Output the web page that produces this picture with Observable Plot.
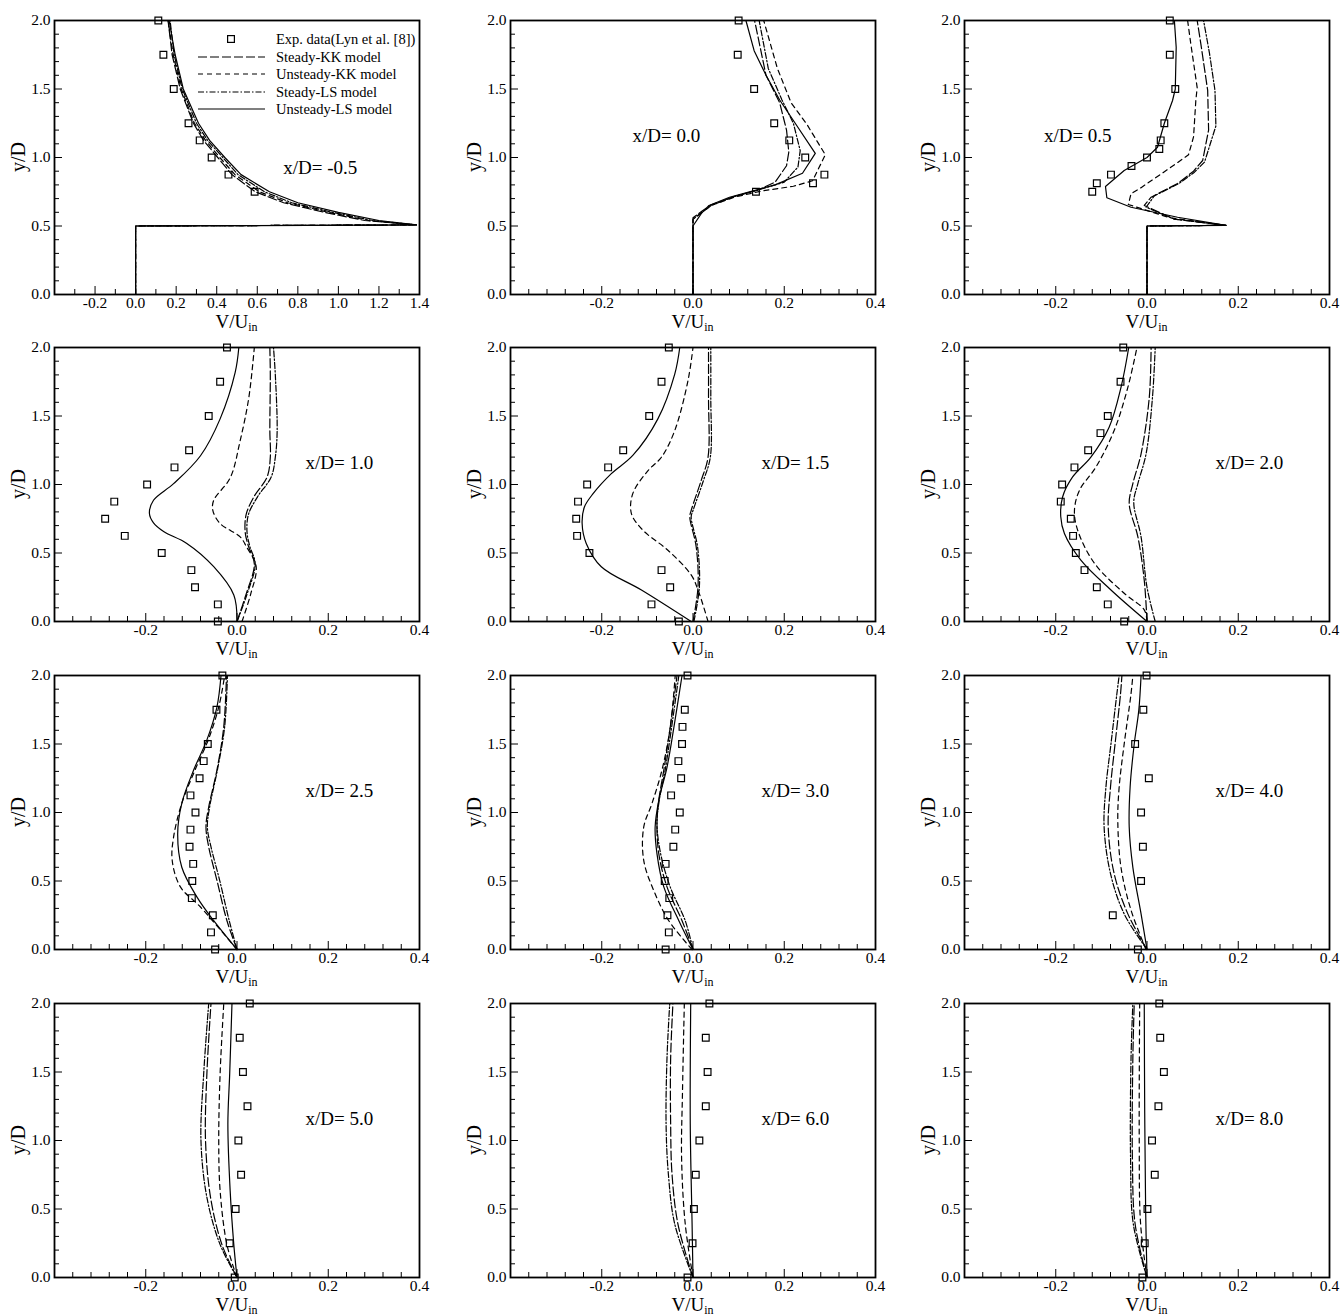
<!DOCTYPE html>
<html><head><meta charset="utf-8">
<script src="https://cdn.jsdelivr.net/npm/d3@7"></script>
<script src="https://cdn.jsdelivr.net/npm/@observablehq/plot@0.6"></script>
<style>
body{margin:0;background:#fff;}
#wrap{position:relative;width:1341px;height:1316px;overflow:hidden;background:#fff;font-family:"Liberation Serif","Times New Roman",serif;}
#wrap svg{position:absolute;}
</style></head><body><div id="wrap"></div>
<script>
// ---------- data: [V/Uin, y/D] ----------
const exp1 = [[0.112,2.0],[0.137,1.75],[0.188,1.5],[0.261,1.25],[0.316,1.125],[0.375,1.0],[0.458,0.875],[0.587,0.75]];
const skk1 = [[0,0],[0,0.5],[1.385,0.508],[1.13,0.54],[0.93,0.6],[0.73,0.67],[0.59,0.75],[0.475,0.875],[0.405,1.0],[0.335,1.125],[0.285,1.25],[0.22,1.5],[0.18,1.75],[0.16,2.0]];
const ukk1 = [[0,0],[0,0.5],[1.385,0.508],[1.15,0.54],[0.95,0.6],[0.75,0.67],[0.61,0.75],[0.49,0.875],[0.415,1.0],[0.345,1.125],[0.29,1.25],[0.225,1.5],[0.185,1.75],[0.16,2.0]];
const sls1 = [[0,0],[0,0.5],[1.385,0.508],[1.17,0.54],[0.97,0.6],[0.77,0.67],[0.635,0.75],[0.505,0.875],[0.43,1.0],[0.355,1.125],[0.30,1.25],[0.23,1.5],[0.19,1.75],[0.17,2.0]];
const uls1 = [[0,0],[0,0.5],[1.385,0.508],[1.2,0.54],[1.0,0.6],[0.8,0.67],[0.66,0.75],[0.52,0.875],[0.44,1.0],[0.365,1.125],[0.31,1.25],[0.235,1.5],[0.195,1.75],[0.165,2.0]];

const exp2 = [[0.100,2.0],[0.098,1.75],[0.134,1.5],[0.178,1.25],[0.211,1.125],[0.246,1.0],[0.288,0.875],[0.263,0.8125],[0.138,0.75]];
const skk2 = [[0,0],[0,0.5],[0,0.56],[0.02,0.61],[0.04,0.655],[0.09,0.715],[0.14,0.76],[0.18,0.82],[0.205,0.94],[0.21,1.04],[0.205,1.2],[0.19,1.4],[0.16,1.6],[0.135,2.0]];
const ukk2 = [[0,0],[0,0.5],[0,0.55],[0.02,0.6],[0.04,0.65],[0.09,0.71],[0.15,0.755],[0.22,0.79],[0.262,0.83],[0.29,1.02],[0.25,1.24],[0.215,1.4],[0.185,1.65],[0.155,2.0]];
const sls2 = [[0,0],[0,0.5],[0,0.55],[0.02,0.6],[0.04,0.65],[0.09,0.715],[0.14,0.76],[0.2,0.82],[0.23,0.93],[0.235,1.05],[0.22,1.25],[0.195,1.42],[0.165,1.65],[0.145,2.0]];
const uls2 = [[0,0],[0,0.5],[0.004,0.52],[0.018,0.59],[0.035,0.65],[0.08,0.71],[0.13,0.755],[0.18,0.8],[0.24,0.885],[0.268,1.03],[0.224,1.25],[0.19,1.42],[0.16,1.6],[0.134,1.78],[0.116,2.0]];

const exp3 = [[0.050,2.0],[0.050,1.75],[0.062,1.5],[0.038,1.25],[0.030,1.125],[0.027,1.0625],[0.0,1.0],[-0.034,0.9375],[-0.079,0.875],[-0.110,0.8125],[-0.120,0.75]];
const skk3 = [[0,0],[0,0.5],[0.173,0.505],[0.06,0.55],[-0.006,0.65],[0.009,0.71],[0.067,0.81],[0.102,0.9],[0.122,0.978],[0.135,1.2],[0.133,1.49],[0.118,1.83],[0.11,2.0]];
const ukk3 = [[0,0],[0,0.5],[0.173,0.505],[0.05,0.56],[-0.041,0.657],[-0.035,0.735],[-0.013,0.78],[0.053,0.93],[0.091,1.02],[0.102,1.15],[0.107,1.416],[0.11,1.51],[0.096,1.83],[0.089,2.0]];
const sls3 = [[0,0],[0,0.5],[0.173,0.505],[0.06,0.55],[-0.002,0.637],[0.016,0.72],[0.07,0.81],[0.104,0.893],[0.126,0.966],[0.151,1.23],[0.149,1.49],[0.137,1.76],[0.124,2.0]];
const uls3 = [[0,0],[0,0.5],[0.173,0.505],[0.067,0.564],[-0.035,0.637],[-0.088,0.706],[-0.091,0.788],[-0.05,0.905],[0,1.0],[0.023,1.075],[0.038,1.25],[0.056,1.416],[0.062,1.5],[0.064,1.805],[0.060,2.0]];

const exp4 = [[-0.022,2.0],[-0.037,1.75],[-0.062,1.5],[-0.105,1.25],[-0.137,1.125],[-0.197,1.0],[-0.269,0.875],[-0.289,0.75],[-0.246,0.625],[-0.165,0.5],[-0.100,0.375],[-0.092,0.25],[-0.042,0.125],[-0.042,0.0]];
const skk4 = [[0,0],[0.02,0.2],[0.038,0.42],[0.025,0.55],[0.018,0.65],[0.02,0.78],[0.037,0.91],[0.066,1.055],[0.073,1.2],[0.072,1.394],[0.073,1.806],[0.072,2.0]];
const ukk4 = [[0.011,0],[0.03,0.2],[0.042,0.4],[0.02,0.55],[0.007,0.618],[-0.037,0.715],[-0.053,0.812],[-0.051,0.885],[-0.015,1.048],[0.007,1.321],[0.026,1.636],[0.038,2.0]];
const sls4 = [[0,0],[0.022,0.2],[0.04,0.42],[0.028,0.55],[0.022,0.65],[0.025,0.78],[0.045,0.91],[0.075,1.055],[0.084,1.2],[0.088,1.39],[0.084,1.8],[0.080,2.0]];
const uls4 = [[0,0],[-0.007,0.194],[-0.051,0.4],[-0.11,0.57],[-0.16,0.655],[-0.183,0.72],[-0.192,0.79],[-0.183,0.885],[-0.139,1.006],[-0.08,1.21],[-0.037,1.479],[-0.004,1.818],[0.004,2.0]];

const exp5 = [[-0.053,2.0],[-0.069,1.75],[-0.096,1.5],[-0.153,1.25],[-0.186,1.125],[-0.232,1.0],[-0.252,0.875],[-0.256,0.75],[-0.254,0.625],[-0.227,0.5],[-0.069,0.375],[-0.05,0.25],[-0.091,0.125],[-0.031,0.0]];
const skk5 = [[0,0],[0.011,0.255],[0.007,0.545],[-0.007,0.764],[-0.004,0.81],[0.018,1.03],[0.033,1.2],[0.034,1.636],[0.034,2.0]];
const ukk5 = [[0.033,0],[0.011,0.23],[-0.004,0.34],[-0.055,0.52],[-0.11,0.667],[-0.135,0.788],[-0.132,0.933],[-0.099,1.1],[-0.069,1.2],[-0.04,1.394],[-0.011,1.758],[0.0,2.0]];
const sls5 = [[0.002,0],[0.014,0.255],[0.01,0.545],[-0.004,0.764],[0.0,0.81],[0.023,1.03],[0.038,1.2],[0.039,1.636],[0.039,2.0]];
const uls5 = [[-0.004,0],[-0.113,0.23],[-0.201,0.4],[-0.234,0.57],[-0.243,0.715],[-0.238,0.836],[-0.219,0.933],[-0.179,1.079],[-0.132,1.212],[-0.077,1.479],[-0.040,1.806],[-0.029,2.0]];

const exp6 = [[-0.052,2.0],[-0.058,1.75],[-0.086,1.5],[-0.102,1.375],[-0.129,1.25],[-0.159,1.125],[-0.186,1.0],[-0.189,0.875],[-0.167,0.75],[-0.162,0.625],[-0.156,0.5],[-0.137,0.375],[-0.110,0.25],[-0.086,0.125],[-0.05,0.0]];
const skk6 = [[0,0],[-0.006,0.30],[-0.02,0.618],[-0.039,0.86],[-0.031,1.006],[-0.013,1.224],[0.005,1.636],[0.009,2.0]];
const ukk6 = [[0,0],[-0.006,0.085],[-0.05,0.206],[-0.115,0.424],[-0.152,0.667],[-0.159,0.812],[-0.148,0.958],[-0.112,1.127],[-0.072,1.394],[-0.042,1.709],[-0.022,2.0]];
const sls6 = [[0.018,0],[0,0.25],[-0.013,0.618],[-0.029,0.87],[-0.02,1.006],[-0.002,1.224],[0.012,1.636],[0.018,2.0]];
const uls6 = [[0,0],[-0.079,0.23],[-0.145,0.448],[-0.181,0.642],[-0.189,0.764],[-0.185,0.909],[-0.163,1.055],[-0.123,1.2],[-0.083,1.418],[-0.057,1.709],[-0.040,2.0]];

const exp7 = [[-0.032,2.0],[-0.045,1.75],[-0.064,1.5],[-0.073,1.375],[-0.082,1.25],[-0.102,1.125],[-0.091,1.0],[-0.102,0.875],[-0.104,0.75],[-0.096,0.625],[-0.098,0.5],[-0.099,0.375],[-0.053,0.25],[-0.057,0.125],[-0.048,0.0]];
const skk7 = [[0,0],[-0.022,0.21],[-0.044,0.505],[-0.062,0.749],[-0.068,0.894],[-0.062,1.04],[-0.044,1.31],[-0.029,1.627],[-0.023,2.0]];
const ukk7 = [[0,0],[-0.08,0.31],[-0.124,0.457],[-0.142,0.65],[-0.139,0.82],[-0.121,1.067],[-0.092,1.31],[-0.063,1.53],[-0.04,1.77],[-0.027,2.0]];
const sls7 = [[0,0],[-0.017,0.21],[-0.038,0.505],[-0.057,0.749],[-0.065,0.894],[-0.06,1.04],[-0.043,1.31],[-0.027,1.627],[-0.021,2.0]];
const uls7 = [[0,0],[-0.051,0.21],[-0.088,0.384],[-0.121,0.6],[-0.130,0.845],[-0.121,1.067],[-0.095,1.31],[-0.066,1.53],[-0.044,1.77],[-0.035,2.0]];

const exp8 = [[-0.012,2.0],[-0.018,1.75],[-0.023,1.625],[-0.024,1.5],[-0.032,1.375],[-0.026,1.25],[-0.048,1.125],[-0.029,1.0],[-0.039,0.875],[-0.043,0.75],[-0.060,0.625],[-0.062,0.5],[-0.052,0.375],[-0.056,0.25],[-0.053,0.125],[-0.060,0.0]];
const skk8 = [[0,0],[-0.024,0.21],[-0.057,0.457],[-0.075,0.7],[-0.079,0.92],[-0.075,1.089],[-0.064,1.31],[-0.05,1.62],[-0.035,2.0]];
const ukk8 = [[-0.002,0],[-0.053,0.21],[-0.086,0.43],[-0.108,0.65],[-0.108,0.894],[-0.09,1.065],[-0.068,1.31],[-0.05,1.62],[-0.039,2.0]];
const sls8 = [[0,0],[-0.017,0.21],[-0.05,0.457],[-0.071,0.7],[-0.079,0.92],[-0.074,1.089],[-0.061,1.31],[-0.047,1.62],[-0.031,2.0]];
const uls8 = [[0,0],[-0.031,0.21],[-0.064,0.457],[-0.079,0.7],[-0.083,0.894],[-0.075,1.089],[-0.057,1.33],[-0.042,1.62],[-0.024,2.0]];

const exp9 = [[-0.001,2.0],[-0.008,1.75],[-0.026,1.5],[0.004,1.25],[-0.013,1.0],[-0.009,0.75],[-0.013,0.5],[-0.075,0.25],[-0.020,0.0]];
const skk9 = [[0,0],[-0.042,0.26],[-0.072,0.554],[-0.085,0.894],[-0.08,1.186],[-0.07,1.5],[-0.058,1.867],[-0.055,2.0]];
const ukk9 = [[-0.002,0],[-0.035,0.287],[-0.057,0.6],[-0.064,0.94],[-0.061,1.186],[-0.05,1.5],[-0.035,1.867],[-0.031,2.0]];
const sls9 = [[0,0],[-0.05,0.26],[-0.08,0.554],[-0.094,0.894],[-0.09,1.186],[-0.079,1.5],[-0.066,1.867],[-0.061,2.0]];
const uls9 = [[0,0],[-0.013,0.26],[-0.031,0.6],[-0.039,0.894],[-0.037,1.186],[-0.028,1.5],[-0.018,1.745],[-0.013,2.0]];

const exp10 = [[0.028,2.0],[0.006,1.75],[0.013,1.5],[0.023,1.25],[0.003,1.0],[0.009,0.75],[-0.003,0.5],[-0.016,0.25],[-0.005,0.0]];
const skk10 = [[0,0],[-0.033,0.24],[-0.058,0.585],[-0.069,1.0],[-0.066,1.488],[-0.057,2.0]];
const ukk10 = [[0,0],[-0.022,0.24],[-0.037,0.634],[-0.04,1.0],[-0.037,1.488],[-0.029,2.0]];
const sls10 = [[0,0],[-0.037,0.24],[-0.066,0.585],[-0.079,1.0],[-0.073,1.488],[-0.062,2.0]];
const uls10 = [[0,0],[-0.007,0.24],[-0.015,0.634],[-0.02,1.12],[-0.016,1.488],[-0.011,2.0]];

const exp11 = [[0.036,2.0],[0.028,1.75],[0.032,1.5],[0.028,1.25],[0.014,1.0],[0.006,0.75],[0.002,0.5],[-0.001,0.25],[-0.012,0.0]];
const skk11 = [[0,0],[-0.033,0.39],[-0.046,0.756],[-0.049,1.12],[-0.049,1.6],[-0.044,2.0]];
const ukk11 = [[0,0],[-0.017,0.39],[-0.025,0.87],[-0.023,1.36],[-0.019,2.0]];
const sls11 = [[0,0],[-0.04,0.39],[-0.054,0.756],[-0.059,1.12],[-0.057,1.6],[-0.051,2.0]];
const uls11 = [[0,0],[-0.002,0.39],[-0.006,1.12],[-0.005,2.0]];

const exp12 = [[0.027,2.0],[0.029,1.75],[0.037,1.5],[0.025,1.25],[0.011,1.0],[0.017,0.75],[0.001,0.5],[-0.005,0.25],[-0.010,0.0]];
const skk12 = [[0,0],[-0.026,0.39],[-0.032,0.87],[-0.031,1.6],[-0.028,2.0]];
const ukk12 = [[0,0],[-0.014,0.39],[-0.017,1.0],[-0.016,2.0]];
const sls12 = [[0,0],[-0.03,0.39],[-0.036,0.87],[-0.035,1.6],[-0.031,2.0]];
const uls12 = [[0,0],[-0.003,0.5],[-0.005,1.2],[-0.006,2.0]];

const stationLabels = ["x/D= -0.5","x/D= 0.0","x/D= 0.5","x/D= 1.0","x/D= 1.5","x/D= 2.0","x/D= 2.5","x/D= 3.0","x/D= 4.0","x/D= 5.0","x/D= 6.0","x/D= 8.0"];
const legendLabels = ["Exp. data(Lyn et al. [8])","Steady-KK model","Unsteady-KK model","Steady-LS model","Unsteady-LS model"];

// tick values
const xMajorWide = [-0.2,0,0.2,0.4,0.6,0.8,1.0,1.2,1.4];
const xMinorWide = [-0.3,-0.1,0.1,0.3,0.5,0.7,0.9,1.1,1.3];
const xMajor = [-0.2,0,0.2,0.4];
const xMinor = [-0.36,-0.32,-0.28,-0.24,-0.16,-0.12,-0.08,-0.04,0.04,0.08,0.12,0.16,0.24,0.28,0.32,0.36];
const yMajor = [0,0.5,1.0,1.5,2.0];
const yMinor = [0.1,0.2,0.3,0.4,0.6,0.7,0.8,0.9,1.1,1.2,1.3,1.4,1.6,1.7,1.8,1.9];

// ---------- layout ----------
const expSets = [exp1,exp2,exp3,exp4,exp5,exp6,exp7,exp8,exp9,exp10,exp11,exp12];
const skkSets = [skk1,skk2,skk3,skk4,skk5,skk6,skk7,skk8,skk9,skk10,skk11,skk12];
const ukkSets = [ukk1,ukk2,ukk3,ukk4,ukk5,ukk6,ukk7,ukk8,ukk9,ukk10,ukk11,ukk12];
const slsSets = [sls1,sls2,sls3,sls4,sls5,sls6,sls7,sls8,sls9,sls10,sls11,sls12];
const ulsSets = [uls1,uls2,uls3,uls4,uls5,uls6,uls7,uls8,uls9,uls10,uls11,uls12];
const labelPos = [[0.728,0.922],[-0.1325,1.155],[-0.226,1.155]]; // others [0.15,1.16]

const COL_LEFT = [54, 510, 964], ROW_TOP = [20, 347, 675, 1003];
const FW = 365, FH = 274, ML = 54, MT = 20, MR = 10, MB = 44;
const FONT = '"Liberation Serif","Times New Roman",serif';
const fmt = d => (Math.abs(d) < 1e-9 ? 0 : d).toFixed(1);
const blank = () => "";
const styles = {
  skk: {strokeDasharray: "9,3"},
  ukk: {strokeDasharray: "5,4"},
  sls: {strokeDasharray: "6,2,1.5,2"},
  uls: {}
};

const wrap = document.getElementById("wrap");

for (let i = 0; i < 12; i++) {
  const col = i % 3, row = Math.floor(i / 3);
  const wide = i === 0;
  const xDomain = wide ? [-0.4, 1.4] : [-0.4, 0.4];
  const curve = i < 3 ? "linear" : "catmull-rom";
  const lp = labelPos[i] || [0.15, 1.16];
  const line = (arr, st) => Plot.line(arr, {x: d => d[0], y: d => d[1], stroke: "black", strokeWidth: 1.2, curve, ...st});
  const svg = Plot.plot({
    width: ML + FW + MR, height: MT + FH + MB,
    marginLeft: ML, marginRight: MR, marginTop: MT, marginBottom: MB,
    style: {background: "transparent", fontFamily: FONT, fontSize: "15.5px", color: "black", overflow: "visible"},
    x: {domain: xDomain}, y: {domain: [0, 2]},
    marks: [
      Plot.axisX(wide ? xMajorWide : xMajor, {tickSize: 8, dy: -8, tickFormat: blank, label: null}),
      Plot.axisX(wide ? xMinorWide : xMinor, {tickSize: 5, dy: -5, tickFormat: blank, label: null}),
      Plot.axisX(wide ? xMajorWide : xMajor, {tickSize: 0, tickPadding: 2, tickFormat: fmt, label: null, fontSize: 15.5}),
      Plot.axisY(yMajor, {tickSize: 8, dx: 8, tickFormat: blank, label: null}),
      Plot.axisY(yMinor, {tickSize: 5, dx: 5, tickFormat: blank, label: null}),
      Plot.axisY(yMajor, {tickSize: 0, tickPadding: 4, tickFormat: fmt, label: null, fontSize: 15.5}),
      Plot.frame({stroke: "black", strokeWidth: 1.8}),
      line(skkSets[i], styles.skk),
      line(ukkSets[i], styles.ukk),
      line(slsSets[i], styles.sls),
      line(ulsSets[i], styles.uls),
      Plot.dot(expSets[i], {x: d => d[0], y: d => d[1], symbol: "square", r: 3.8, stroke: "black", fill: "none", strokeWidth: 1.2}),
      Plot.text([stationLabels[i]], {x: lp[0], y: lp[1], text: d => d, textAnchor: "start", fontSize: 19, fill: "black"})
    ]
  });
  svg.style.left = (COL_LEFT[col] - ML) + "px";
  svg.style.top = (ROW_TOP[row] - MT) + "px";
  const s = d3.select(svg);
  // x label V/U_in
  const xl = s.append("text").attr("x", ML + FW / 2).attr("y", MT + FH + (row === 3 ? 33.5 : 34))
    .attr("text-anchor", "middle").attr("font-family", FONT).attr("font-size", 19).attr("fill", "black");
  xl.append("tspan").text("V/U");
  xl.append("tspan").attr("font-size", 12).attr("dy", 3).text("in");
  // y label
  s.append("text").attr("transform", `translate(25,${MT + FH / 2}) rotate(-90)`)
    .attr("text-anchor", "middle").attr("font-family", FONT).attr("font-size", 20).attr("fill", "black").text("y/D");
  // legend in first panel
  if (i === 0) {
    const g = s.append("g").attr("font-family", FONT).attr("font-size", 14.5).attr("fill", "black").attr("text-anchor", "start");
    const rows = [39, 57, 74, 92, 109];
    const dashes = [null, "9,3", "5,4", "6,2,1.5,2", null];
    legendLabels.forEach((t, k) => {
      if (k === 0) {
        g.append("rect").attr("x", 231 - 3.4).attr("y", rows[k] - 3.4).attr("width", 6.8).attr("height", 6.8)
          .attr("fill", "none").attr("stroke", "black").attr("stroke-width", 1.2);
      } else {
        const ln = g.append("line").attr("x1", 198).attr("x2", 265).attr("y1", rows[k]).attr("y2", rows[k])
          .attr("stroke", "black").attr("stroke-width", 1.2);
        if (dashes[k]) ln.attr("stroke-dasharray", dashes[k]);
      }
      g.append("text").attr("x", 276).attr("y", rows[k]).attr("dy", "0.35em").attr("text-anchor", "start").text(t);
    });
  }
  wrap.appendChild(svg);
}
</script>
</body></html>
